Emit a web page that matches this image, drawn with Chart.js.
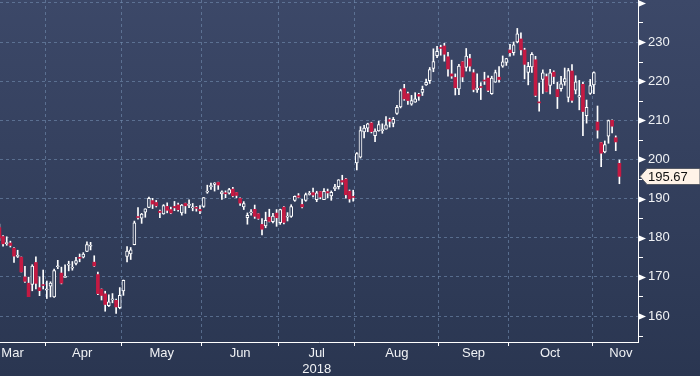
<!DOCTYPE html>
<html lang="en">

<head>
    <meta charset="UTF-8">
    <script src="https://cdn.jsdelivr.net/npm/chart.js"></script>
    <style>
        html, body { margin: 0; padding: 0; }
        body { width: 700px; height: 376px; overflow: hidden; background: linear-gradient(#3c4868, #2a3651); }
    </style>
</head>

<body>
    <canvas id="candles" width="700" height="376"></canvas>

    <script>
        // trading days shown, Mar 13 to Nov 12 2018
        const dates = [
            'Mar 13', 'Mar 14', 'Mar 15', 'Mar 16', 'Mar 19', 'Mar 20', 'Mar 21', 'Mar 22', 'Mar 23', 'Mar 26', 'Mar 27', 'Mar 28', 'Mar 29',
            'Apr 2', 'Apr 3', 'Apr 4', 'Apr 5', 'Apr 6', 'Apr 9', 'Apr 10', 'Apr 11', 'Apr 12', 'Apr 13', 'Apr 16', 'Apr 17', 'Apr 18', 'Apr 19', 'Apr 20', 'Apr 23', 'Apr 24', 'Apr 25', 'Apr 26', 'Apr 27', 'Apr 30',
            'May 1', 'May 2', 'May 3', 'May 4', 'May 7', 'May 8', 'May 9', 'May 10', 'May 11', 'May 14', 'May 15', 'May 16', 'May 17', 'May 18', 'May 21', 'May 22', 'May 23', 'May 24', 'May 25', 'May 29', 'May 30', 'May 31',
            'Jun 1', 'Jun 4', 'Jun 5', 'Jun 6', 'Jun 7', 'Jun 8', 'Jun 11', 'Jun 12', 'Jun 13', 'Jun 14', 'Jun 15', 'Jun 18', 'Jun 19', 'Jun 20', 'Jun 21', 'Jun 22', 'Jun 25', 'Jun 26', 'Jun 27', 'Jun 28', 'Jun 29',
            'Jul 2', 'Jul 3', 'Jul 5', 'Jul 6', 'Jul 9', 'Jul 10', 'Jul 11', 'Jul 12', 'Jul 13', 'Jul 16', 'Jul 17', 'Jul 18', 'Jul 19', 'Jul 20', 'Jul 23', 'Jul 24', 'Jul 25', 'Jul 26', 'Jul 27', 'Jul 30', 'Jul 31',
            'Aug 1', 'Aug 2', 'Aug 3', 'Aug 6', 'Aug 7', 'Aug 8', 'Aug 9', 'Aug 10', 'Aug 13', 'Aug 14', 'Aug 15', 'Aug 16', 'Aug 17', 'Aug 20', 'Aug 21', 'Aug 22', 'Aug 23', 'Aug 24', 'Aug 27', 'Aug 28', 'Aug 29', 'Aug 30', 'Aug 31',
            'Sep 4', 'Sep 5', 'Sep 6', 'Sep 7', 'Sep 10', 'Sep 11', 'Sep 12', 'Sep 13', 'Sep 14', 'Sep 17', 'Sep 18', 'Sep 19', 'Sep 20', 'Sep 21', 'Sep 24', 'Sep 25', 'Sep 26', 'Sep 27', 'Sep 28',
            'Oct 1', 'Oct 2', 'Oct 3', 'Oct 4', 'Oct 5', 'Oct 8', 'Oct 9', 'Oct 10', 'Oct 11', 'Oct 12', 'Oct 15', 'Oct 16', 'Oct 17', 'Oct 18', 'Oct 19', 'Oct 22', 'Oct 23', 'Oct 24', 'Oct 25', 'Oct 26', 'Oct 29', 'Oct 30', 'Oct 31',
            'Nov 1', 'Nov 2', 'Nov 5', 'Nov 6', 'Nov 7', 'Nov 8', 'Nov 9', 'Nov 12'
        ];

        const opens = [
            182.59, 180.32, 178.50, 178.65, 177.32, 175.24, 175.04, 170.00, 168.39, 168.07, 173.68, 167.25, 167.81,
            166.64, 167.64, 164.88, 172.58, 170.97, 169.88, 173.00, 172.23, 173.41, 174.78, 175.03, 176.49, 177.81, 173.76, 170.60, 166.83, 165.67, 162.62, 164.12, 164.00, 162.13,
            166.41, 175.23, 175.88, 178.25, 185.18, 184.99, 186.55, 187.74, 189.49, 189.01, 186.78, 186.07, 188.00, 187.19, 188.00, 188.38, 186.35, 188.77, 188.23, 187.60, 187.72, 187.22,
            187.99, 191.64, 193.07, 193.63, 194.14, 191.17, 191.35, 191.39, 192.42, 191.55, 190.03, 187.88, 185.14, 186.35, 187.25, 186.12, 183.40, 182.99, 185.23, 184.10, 186.29,
            183.82, 187.79, 185.26, 185.42, 189.50, 190.71, 188.50, 189.53, 191.08, 191.52, 189.75, 191.78, 189.69, 191.78, 190.68, 192.45, 193.06, 194.61, 194.99, 191.90, 190.30,
            199.13, 200.58, 207.03, 208.00, 209.32, 206.05, 207.28, 207.36, 207.70, 210.16, 209.22, 211.75, 213.44, 218.10, 216.80, 214.10, 214.65, 216.60, 217.15, 219.01, 220.15, 223.25, 226.51,
            228.41, 228.99, 226.23, 221.85, 220.95, 218.01, 224.94, 223.52, 225.75, 222.15, 217.79, 218.50, 220.24, 220.78, 216.82, 219.75, 221.00, 223.82, 224.79,
            227.95, 227.25, 230.05, 230.78, 227.96, 222.21, 223.64, 225.46, 214.52, 220.42, 221.16, 218.93, 222.30, 217.86, 218.06, 219.79, 215.83, 222.60, 217.71, 215.90, 219.19, 211.15, 216.88,
            219.05, 209.55, 204.30, 201.92, 205.97, 209.98, 205.55, 199.00
        ];

        const highs = [
            183.50, 180.52, 180.24, 179.12, 177.47, 176.80, 175.09, 172.68, 169.92, 173.10, 175.15, 170.02, 171.75,
            168.94, 168.75, 172.01, 174.23, 172.48, 173.09, 174.00, 173.92, 175.00, 175.84, 176.19, 178.94, 178.82, 175.39, 171.22, 166.92, 166.33, 165.42, 165.73, 164.33, 167.26,
            169.20, 177.75, 177.50, 184.25, 187.67, 186.22, 187.40, 190.37, 190.06, 189.53, 187.07, 188.46, 188.91, 187.81, 189.27, 188.88, 188.50, 188.84, 189.65, 188.75, 188.00, 188.23,
            190.26, 193.42, 193.94, 194.08, 194.20, 192.00, 191.97, 192.61, 192.88, 191.57, 190.16, 189.22, 186.33, 187.20, 188.35, 186.15, 184.92, 186.53, 187.28, 186.21, 187.19,
            187.30, 187.95, 186.41, 188.43, 190.68, 191.28, 189.78, 191.41, 191.84, 192.65, 191.87, 191.80, 192.55, 192.43, 191.96, 193.66, 194.85, 195.96, 195.19, 192.20, 192.14,
            201.76, 208.38, 208.74, 209.25, 209.50, 207.81, 209.78, 209.10, 210.95, 210.56, 210.74, 213.81, 217.95, 219.18, 217.19, 216.36, 217.05, 216.90, 218.74, 220.54, 223.49, 228.26, 228.87,
            229.18, 229.67, 227.35, 225.37, 221.85, 224.30, 225.00, 228.35, 226.84, 222.95, 221.85, 219.62, 222.28, 221.36, 221.26, 222.82, 223.75, 226.44, 225.84,
            229.42, 230.00, 233.47, 232.35, 228.41, 224.80, 227.27, 226.35, 219.50, 222.88, 221.83, 222.99, 222.64, 219.74, 221.26, 223.36, 223.25, 224.23, 221.38, 220.19, 219.69, 215.18, 220.45,
            222.36, 213.65, 204.39, 204.72, 210.06, 210.12, 206.01, 199.85
        ];

        const lows = [
            179.24, 177.81, 178.07, 177.62, 173.66, 174.94, 171.26, 168.60, 164.94, 166.44, 166.92, 165.19, 166.90,
            164.47, 164.88, 164.77, 172.08, 168.20, 169.85, 171.53, 171.70, 173.04, 173.85, 174.83, 176.41, 176.88, 172.66, 165.43, 164.09, 161.22, 162.41, 163.37, 160.63, 161.84,
            165.27, 173.80, 174.44, 178.17, 184.75, 183.67, 185.22, 187.65, 187.45, 187.86, 185.10, 186.00, 186.36, 186.13, 186.91, 186.78, 185.76, 186.21, 187.65, 186.87, 186.78, 186.14,
            187.75, 191.35, 192.36, 191.92, 192.34, 189.77, 190.21, 191.15, 190.44, 190.22, 188.26, 187.20, 183.45, 185.73, 184.94, 184.70, 180.73, 182.54, 184.03, 183.80, 182.91,
            183.42, 183.54, 184.28, 185.20, 189.30, 190.18, 187.61, 189.31, 190.90, 190.42, 189.20, 189.93, 189.69, 190.17, 189.56, 192.05, 192.43, 193.61, 190.10, 189.07, 189.34,
            197.31, 200.35, 205.48, 207.07, 206.76, 204.52, 207.20, 206.67, 207.70, 208.26, 208.33, 211.47, 213.16, 215.11, 214.03, 213.84, 214.60, 215.11, 216.33, 218.92, 219.41, 222.40, 226.00,
            226.63, 225.10, 221.30, 220.71, 216.47, 216.56, 219.84, 222.57, 222.52, 217.27, 217.12, 215.30, 219.15, 217.29, 216.63, 219.70, 219.76, 223.54, 224.02,
            226.35, 226.63, 229.78, 226.73, 220.58, 219.05, 222.25, 216.05, 212.32, 216.84, 217.27, 216.76, 219.34, 213.00, 217.43, 218.94, 214.70, 214.54, 216.75, 212.67, 206.09, 209.27, 216.62,
            216.81, 205.43, 198.17, 201.69, 204.13, 206.75, 202.25, 193.79
        ];

        const closes = [
            179.97, 178.44, 178.65, 178.02, 175.30, 175.24, 171.27, 168.85, 164.94, 172.77, 168.34, 166.48, 167.78,
            166.68, 168.39, 171.61, 172.80, 168.38, 170.05, 173.25, 172.44, 174.14, 174.73, 175.82, 178.24, 177.84, 172.80, 165.72, 165.24, 162.94, 163.65, 164.22, 162.32, 165.26,
            169.10, 176.57, 176.89, 183.83, 185.16, 186.05, 187.36, 190.04, 188.59, 188.15, 186.44, 188.18, 186.99, 186.31, 187.63, 187.16, 188.36, 188.15, 188.58, 187.90, 187.50, 186.87,
            190.24, 191.83, 193.31, 193.98, 193.46, 191.70, 191.23, 192.28, 190.70, 190.80, 188.84, 188.74, 185.69, 186.50, 185.46, 184.92, 182.17, 184.43, 184.16, 185.50, 185.11,
            187.18, 183.92, 185.40, 187.97, 190.58, 190.35, 187.88, 191.03, 191.33, 190.91, 191.45, 190.40, 191.88, 191.44, 191.61, 193.00, 194.82, 194.21, 190.98, 189.91, 190.29,
            201.50, 207.39, 207.99, 209.07, 207.11, 207.25, 208.88, 207.53, 208.87, 209.75, 210.24, 213.32, 217.58, 215.46, 215.04, 215.05, 215.49, 216.16, 217.94, 219.70, 222.98, 225.03, 227.63,
            228.36, 226.87, 223.10, 221.30, 218.33, 223.85, 221.07, 226.41, 223.84, 217.88, 218.24, 218.37, 220.03, 217.66, 220.79, 222.19, 220.42, 224.95, 225.74,
            227.26, 229.28, 232.07, 227.99, 224.29, 223.77, 226.87, 216.36, 214.45, 222.11, 217.36, 222.15, 221.19, 216.02, 219.31, 220.65, 222.73, 215.09, 219.80, 216.30, 212.24, 213.30, 218.86,
            222.22, 207.48, 201.59, 203.77, 209.95, 208.49, 204.47, 195.67
        ];

        const yTicks = [155, 160, 165, 170, 175, 180, 185, 190, 195, 200, 205, 210, 215, 220, 225, 230, 235, 240];
        const monthLabels = ['Mar', 'Apr', 'May', 'Jun', ['Jul', '2018'], 'Aug', 'Sep', 'Oct', 'Nov'];
        const monthLabelPos = [3.6, 22.7, 44.5, 66, 87, 109, 130, 151, 170.4];

        const red = '#c41a43';
        const gridColor = 'rgba(115,142,176,0.6)';
        const font = { family: "'Liberation Sans', Arial, sans-serif", size: 13 };

        // month boundaries (between last day of one month and first of next)
        const monthOf = d => d.split(' ')[0];
        const boundaries = [];
        for (let i = 1; i < dates.length; i++) {
            if (monthOf(dates[i]) != monthOf(dates[i - 1])) boundaries.push(i - 0.5);
        }

        const canvas = document.getElementById('candles');
        const ctx = canvas.getContext('2d');
        // same gradient as the page, used to fill the hollow candles
        const bgFill = ctx.createLinearGradient(0, 0, 0, 376);
        bgFill.addColorStop(0, '#3c4868');
        bgFill.addColorStop(1, '#2a3651');

        const isUp = i => closes[i] >= opens[i];

        const axisMarks = {
            id: 'axisMarks',
            afterDraw(chart) {
                const c = chart.ctx;
                const y = chart.scales.y;
                const x0 = chart.chartArea.right;
                c.save();
                c.fillStyle = '#ffffff';
                c.strokeStyle = '#ffffff';
                c.lineWidth = 1;
                yTicks.forEach(v => {
                    const py = Math.round(y.getPixelForValue(v)) + 0.5;
                    if (v % 10 == 0) {
                        c.beginPath();
                        c.moveTo(x0, py - 3.5);
                        c.lineTo(x0 + 8, py);
                        c.lineTo(x0, py + 3.5);
                        c.closePath();
                        c.fill();
                    } else {
                        c.beginPath();
                        c.moveTo(x0, py);
                        c.lineTo(x0 + 5, py);
                        c.stroke();
                    }
                });

                // last price tag
                const last = closes[closes.length - 1];
                const py = Math.round(y.getPixelForValue(last)) + 0.5;
                c.beginPath();
                c.moveTo(x0 + 2, py);
                c.lineTo(x0 + 9, py - 8);
                c.lineTo(700, py - 8);
                c.lineTo(700, py + 8);
                c.lineTo(x0 + 9, py + 8);
                c.closePath();
                c.fillStyle = '#fff3e8';
                c.fill();
                c.strokeStyle = '#555a66';
                c.stroke();
                c.fillStyle = '#111111';
                c.font = "13px 'Liberation Sans', Arial, sans-serif";
                c.textBaseline = 'middle';
                c.textAlign = 'left';
                c.fillText(last.toFixed(2), x0 + 10, py + 0.5);
                c.restore();
            }
        };

        new Chart(canvas, {
            type: 'bar',
            data: {
                datasets: [{
                    label: 'wick',
                    data: dates.map((d, i) => ({ x: i, y: [lows[i], highs[i]] })),
                    backgroundColor: '#ffffff',
                    borderWidth: 0,
                    barThickness: 1,
                    grouped: false,
                    order: 2
                }, {
                    label: 'body',
                    data: dates.map((d, i) => ({ x: i, y: [opens[i], closes[i]] })),
                    backgroundColor: c => isUp(c.dataIndex) ? bgFill : red,
                    borderColor: c => isUp(c.dataIndex) ? '#ffffff' : red,
                    borderWidth: c => isUp(c.dataIndex) ? 1 : 0,
                    borderSkipped: false,
                    barThickness: 3,
                    minBarLength: 1,
                    grouped: false,
                    order: 1
                }]
            },
            options: {
                responsive: false,
                animation: false,
                events: [],
                layout: { padding: 0 },
                plugins: {
                    legend: { display: false },
                    tooltip: { enabled: false }
                },
                scales: {
                    x: {
                        type: 'linear',
                        min: 0.16,
                        max: 175.1,
                        offset: false,
                        afterBuildTicks: s => {
                            const t = boundaries.map(v => ({ value: v, txt: '' }));
                            monthLabelPos.forEach((v, i) => t.push({ value: v, txt: monthLabels[i] }));
                            t.sort((a, b) => a.value - b.value);
                            s.ticks = t;
                        },
                        afterFit: s => {
                            s.height = 34;
                            s.paddingLeft = 0;
                            s.paddingRight = 0;
                        },
                        ticks: {
                            autoSkip: false,
                            maxRotation: 0,
                            padding: 0,
                            color: '#f0f2f5',
                            font: font,
                            callback: (v, i, t) => t[i].txt
                        },
                        grid: {
                            offset: false,
                            color: c => c.tick && c.tick.txt === '' ? gridColor : 'transparent',
                            tickColor: c => c.tick && c.tick.txt === '' ? '#ffffff' : 'transparent',
                            tickLength: 4
                        },
                        border: { color: '#ffffff', width: 1, dash: [3, 3] }
                    },
                    y: {
                        position: 'right',
                        min: 153.36,
                        max: 240.73,
                        afterBuildTicks: s => { s.ticks = yTicks.map(v => ({ value: v })); },
                        afterFit: s => {
                            s.width = 62;
                            s.paddingTop = 0;
                            s.paddingBottom = 0;
                        },
                        ticks: {
                            padding: 10,
                            color: '#f0f2f5',
                            font: font,
                            callback: v => (v % 10 == 0 && v < 240) ? String(v) : ''
                        },
                        grid: {
                            color: c => c.tick && c.tick.value % 10 == 0 ? gridColor : 'transparent',
                            drawTicks: false
                        },
                        border: { color: '#ffffff', width: 1, dash: [3, 3] }
                    }
                }
            },
            plugins: [axisMarks]
        });
    </script>
</body>

</html>
